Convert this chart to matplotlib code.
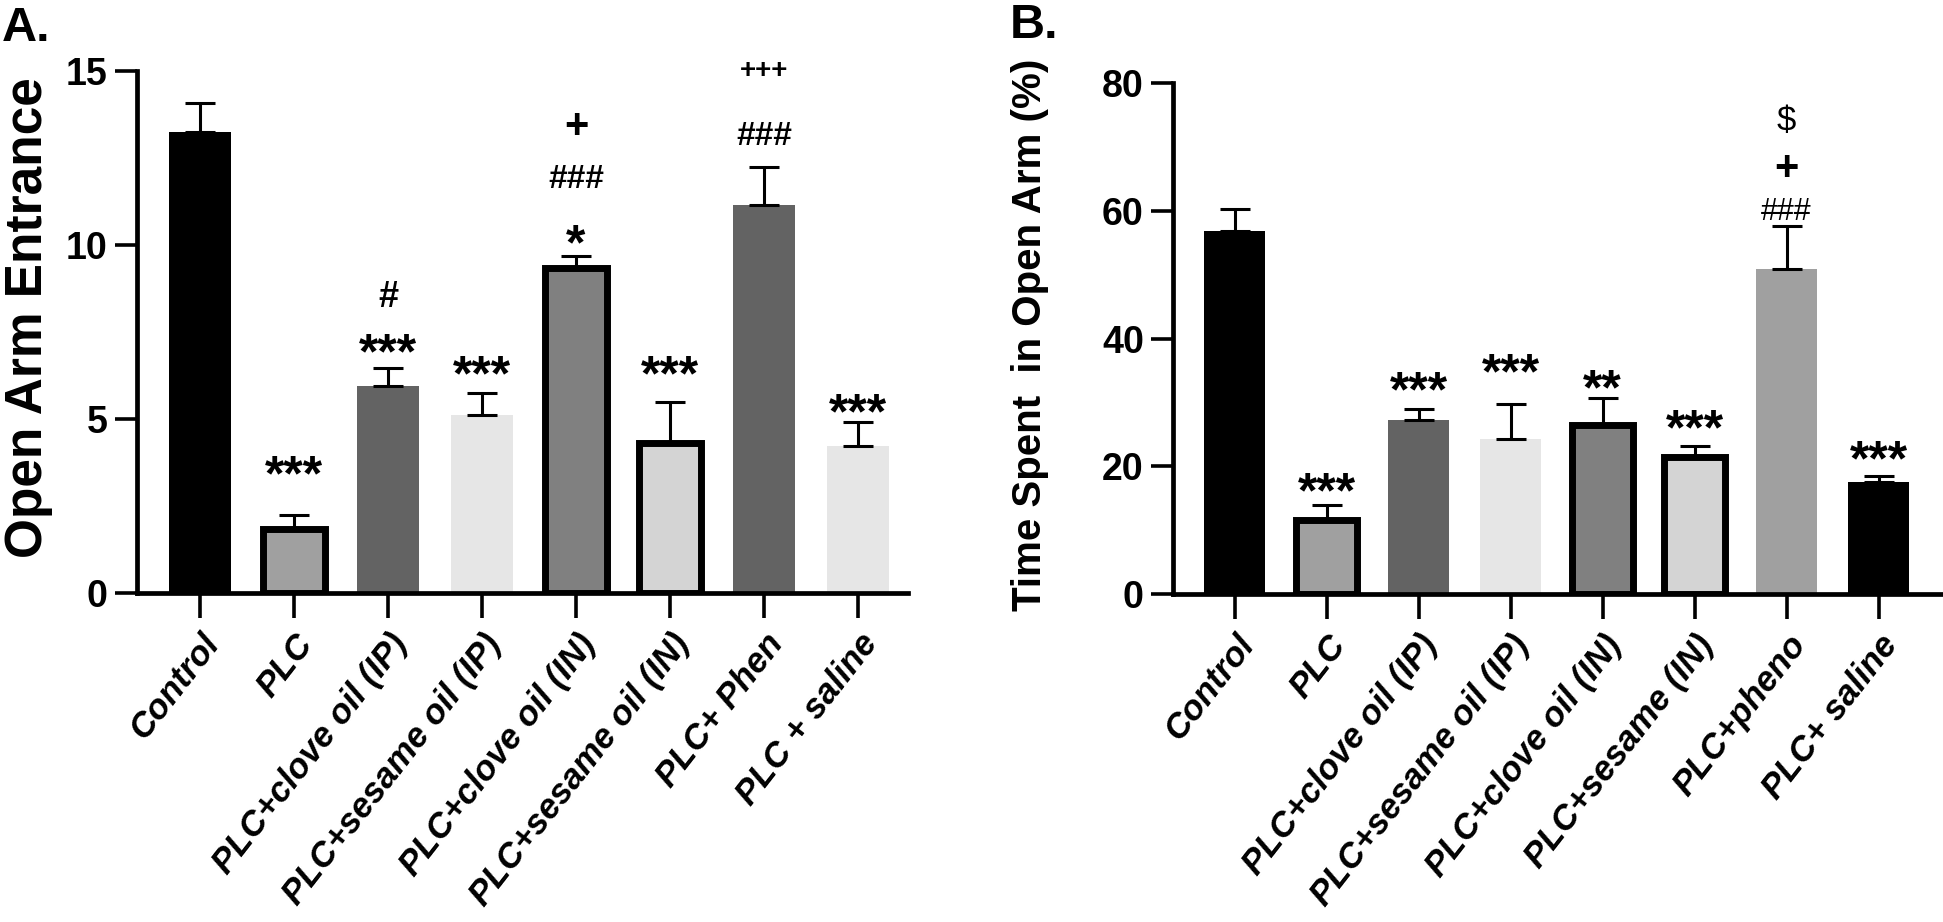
import matplotlib
matplotlib.use('Agg')
import matplotlib.pyplot as plt
from matplotlib.transforms import ScaledTranslation
import numpy as np

SANS = ['Liberation Sans', 'DejaVu Sans']

# ---- panel A : open arm entrance ----
labels_a = ['Control', 'PLC', 'PLC+clove oil (IP)', 'PLC+sesame oil (IP)',
            'PLC+clove oil (IN)', 'PLC+sesame oil (IN)', 'PLC+ Phen', 'PLC + saline']
means_a = [13.25, 1.85, 5.94, 5.12, 9.35, 4.32, 11.16, 4.23]
sem_a = [0.84, 0.40, 0.53, 0.63, 0.34, 1.17, 1.08, 0.68]
colors_a = ['#000000', '#a0a0a0', '#636363', '#e6e6e6', '#808080', '#d4d4d4', '#636363', '#e6e6e6']
outlined_a = [False, True, False, False, True, True, False, False]
# (bar index, symbol, height of symbol centre)
marks_a = [(1, '***', 3.76), (2, '***', 7.26), (2, '#', 8.57), (3, '***', 6.64),
           (4, '*', 10.4), (4, '###', 11.96), (4, '+', 13.46), (5, '***', 6.64),
           (6, '###', 13.22), (6, '+++', 15.05), (7, '***', 5.54)]

# ---- panel B : time spent in open arm ----
labels_b = ['Control', 'PLC', 'PLC+clove oil (IP)', 'PLC+sesame oil (IP)',
            'PLC+clove oil (IN)', 'PLC+sesame (IN)', 'PLC+pheno', 'PLC+ saline']
means_b = [56.8, 11.6, 27.3, 24.3, 26.5, 21.4, 50.9, 17.6]
sem_b = [3.5, 2.3, 1.7, 5.5, 4.2, 1.7, 6.7, 0.9]
colors_b = ['#000000', '#a0a0a0', '#636363', '#e6e6e6', '#808080', '#d4d4d4', '#a0a0a0', '#000000']
outlined_b = [False, True, False, False, True, True, False, False]
marks_b = [(1, '***', 17.9), (2, '***', 33.8), (3, '***', 36.6), (4, '**', 34.1),
           (5, '***', 27.8), (6, '###', 60.2), (6, '+', 67.0), (6, '$', 74.4), (7, '***', 23.0)]

# symbol -> (fontsize, weight, fraction of em where glyph centre sits)
sym_style = {
    '*': (36, 'bold', 0.56), '**': (36, 'bold', 0.56), '***': (36, 'bold', 0.56),
    '#': (26, 'bold', 0.35), '###': (24, 'bold', 0.35),
    '+': (30, 'bold', 0.33), '+++': (20, 'bold', 0.33), '$': (25, 'normal', 0.35),
}


def draw_panel(fig, ax, labels, means, sem, colors, outlined, marks, ylim, yticks, ylabel,
               ylabel_size, ylabel_pos, xmax, hash_weight='bold'):
    x = np.arange(len(labels))
    for i in range(len(labels)):
        if outlined[i]:
            ax.bar(x[i], means[i], width=0.66, color=colors[i], edgecolor='black',
                   linewidth=5, zorder=2)
        else:
            ax.bar(x[i], means[i], width=0.66, color=colors[i], edgecolor='none', zorder=2)
    ax.errorbar(x, means, yerr=[np.zeros(len(sem)), sem], fmt='none', ecolor='black',
                elinewidth=2.2, capsize=11, capthick=2.2, zorder=3)

    for i, sym, yc in marks:
        fs, wt, frac = sym_style[sym]
        if sym.startswith('#'):
            wt = hash_weight
            if hash_weight == 'normal':
                fs = 22
        ax.annotate(sym, (x[i], yc), xytext=(0, -frac * fs), textcoords='offset points',
                    ha='center', va='baseline', fontsize=fs, fontweight=wt,
                    family=SANS, annotation_clip=False)

    ax.set_xlim(-0.67, xmax)
    ax.set_ylim(*ylim)
    ax.set_yticks(yticks)
    ax.set_yticklabels([str(t) for t in yticks], family=SANS, fontweight='bold', fontsize=27)
    ax.set_xticks(x)
    ax.set_xticklabels(labels, rotation=52, ha='right', va='top', rotation_mode='anchor',
                       family=SANS, fontweight='bold', fontstyle='italic', fontsize=25)
    shift = ScaledTranslation(0.08, 0, fig.dpi_scale_trans)
    for lab in ax.get_xticklabels():
        lab.set_transform(lab.get_transform() + shift)
    for s in ['top', 'right']:
        ax.spines[s].set_visible(False)
    for s in ['left', 'bottom']:
        ax.spines[s].set_linewidth(3.4)
        ax.spines[s].set_capstyle('projecting')
    ax.tick_params(axis='x', length=18, width=2.6, pad=7)
    ax.tick_params(axis='y', length=16, width=2.6, pad=5)
    ax.set_ylabel(ylabel, fontsize=ylabel_size, fontweight='bold', family=SANS)
    ax.yaxis.set_label_coords(*ylabel_pos)


fig = plt.figure(figsize=(19.43, 9.22), dpi=100)
axA = fig.add_axes([0.0705, 0.3568, 0.3968, 0.5662])
axB = fig.add_axes([0.6037, 0.3557, 0.3963, 0.5543])

draw_panel(fig, axA, labels_a, means_a, sem_a, colors_a, outlined_a, marks_a,
           (0, 15), [0, 5, 10, 15], 'Open Arm Entrance', 37, (-0.109, 0.527), 7.53)
draw_panel(fig, axB, labels_b, means_b, sem_b, colors_b, outlined_b, marks_b,
           (0, 80), [0, 20, 40, 60, 80], 'Time Spent  in Open Arm (%)', 29, (-0.161, 0.507), 7.70,
           hash_weight='normal')

fig.text(2 / 1943, 1 - 6 / 922, 'A.', ha='left', va='top', fontsize=35, fontweight='bold', family=SANS)
fig.text(1010 / 1943, 1 - 3 / 922, 'B.', ha='left', va='top', fontsize=35, fontweight='bold', family=SANS)

fig.savefig('out.png', dpi=100)
